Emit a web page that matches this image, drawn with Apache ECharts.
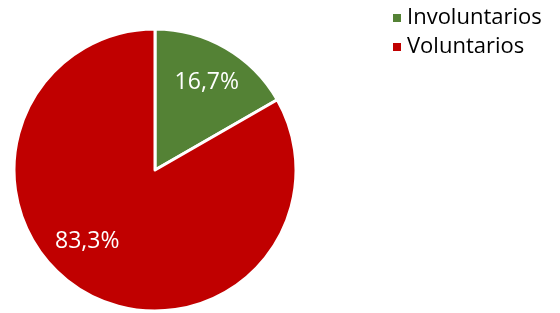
<!DOCTYPE html>
<html>
<head>
<meta charset="utf-8">
<script src="https://cdn.jsdelivr.net/npm/echarts@6/dist/echarts.min.js"></script>
<style>
  html, body { margin: 0; padding: 0; background: #fff; }
  #chart { width: 560px; height: 313px; }
</style>
</head>
<body>
<div id="chart"></div>
<script>
// --- data ---
const categories = ['Involuntarios', 'Voluntarios'];
const shares = [16.7, 83.3];
const colors = ['#548235', '#C00000'];
// label nudges (Excel puts them further out than ECharts' mid-radius)
const labelOffsets = [[15, -24], [-31, 8]];

const chart = echarts.init(document.getElementById('chart'));

chart.setOption({
  backgroundColor: '#fff',
  animation: false,
  color: colors,
  legend: {
    orient: 'vertical',
    left: 386,
    top: 2,
    icon: 'rect',
    itemWidth: 10,
    itemHeight: 10,
    itemGap: 7,
    textStyle: {
      color: '#000',
      fontFamily: '"Open Sans", sans-serif',
      fontSize: 22,
      lineHeight: 22
    },
    data: categories
  },
  series: [
    {
      type: 'pie',
      center: [155, 170],
      radius: [0, 141],
      startAngle: 90,
      clockwise: true,
      itemStyle: {
        borderColor: '#fff',
        borderWidth: 3
      },
      label: {
        show: true,
        position: 'inside',
        color: '#fff',
        fontFamily: '"Open Sans", sans-serif',
        fontSize: 23,
        formatter: p => p.value.toFixed(1).replace('.', ',') + '%'
      },
      labelLine: { show: false },
      emphasis: { disabled: true },
      data: categories.map((name, i) => ({
        name: name,
        value: shares[i],
        label: { offset: labelOffsets[i] }
      }))
    }
  ]
});
</script>
</body>
</html>
